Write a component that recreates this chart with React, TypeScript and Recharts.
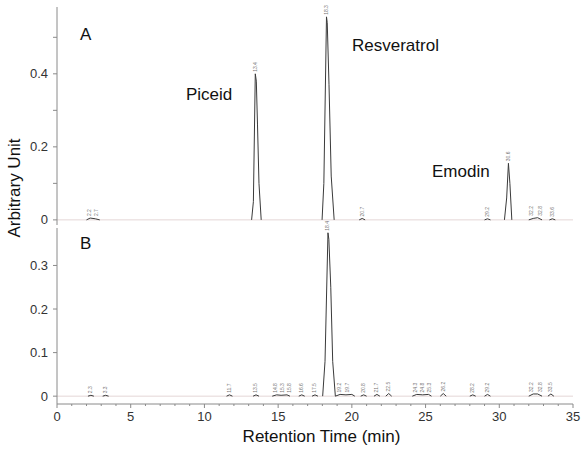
import {
  ComposedChart, Line, XAxis, YAxis, ReferenceLine, ReferenceDot,
} from 'recharts'

// chromatogram traces, [time (min), signal]; null breaks the line between peaks
const traceA: [number, number | null][] = [
  [2.0, 0], [2.25, 0.005], [2.6, 0.003], [2.9, 0], [3.0, null],
  [13.2, 0], [13.32, 0.05], [13.45, 0.4], [13.52, 0.38], [13.6, 0.26], [13.7, 0.1], [13.85, 0], [13.9, null],
  [17.98, 0], [18.1, 0.1], [18.28, 0.556], [18.33, 0.54], [18.45, 0.37], [18.6, 0.12], [18.8, 0], [18.85, null],
  [20.5, 0], [20.7, 0.004], [20.9, 0], [21.0, null],
  [29.0, 0], [29.2, 0.003], [29.4, 0], [29.5, null],
  [30.35, 0], [30.5, 0.06], [30.62, 0.155], [30.72, 0.1], [30.85, 0], [30.9, null],
  [32.0, 0], [32.3, 0.004], [32.6, 0.006], [32.9, 0], [33.0, null],
  [33.4, 0], [33.6, 0.003], [33.8, 0],
]

const traceB: [number, number | null][] = [
  [2.1, 0], [2.3, 0.002], [2.5, 0], [2.6, null],
  [3.1, 0], [3.3, 0.002], [3.5, 0], [3.6, null],
  [11.5, 0], [11.7, 0.003], [11.9, 0], [12.0, null],
  [13.3, 0], [13.5, 0.003], [13.7, 0], [13.8, null],
  [14.6, 0], [14.9, 0.003], [15.2, 0.002], [15.6, 0.003], [15.8, 0], [15.9, null],
  [16.4, 0], [16.6, 0.003], [16.8, 0], [16.9, null],
  [17.3, 0], [17.5, 0.003], [17.7, 0], [17.8, null],
  [18.02, 0], [18.18, 0.08], [18.38, 0.375], [18.44, 0.36], [18.57, 0.25], [18.7, 0.08], [18.88, 0],
  [19.2, 0.004], [19.6, 0.003], [20.0, 0.004], [20.2, 0], [20.3, null],
  [20.6, 0], [20.8, 0.003], [21.0, 0], [21.1, null],
  [21.5, 0], [21.7, 0.004], [21.9, 0], [22.0, null],
  [22.3, 0], [22.5, 0.006], [22.7, 0], [22.8, null],
  [24.1, 0], [24.4, 0.004], [24.8, 0.003], [25.2, 0.004], [25.4, 0], [25.5, null],
  [26.0, 0], [26.2, 0.006], [26.4, 0], [26.5, null],
  [28.0, 0], [28.2, 0.003], [28.4, 0], [28.5, null],
  [29.0, 0], [29.2, 0.004], [29.4, 0], [29.5, null],
  [32.0, 0], [32.3, 0.005], [32.6, 0.005], [32.9, 0], [33.0, null],
  [33.3, 0], [33.5, 0.005], [33.7, 0],
]

// peak labels (retention time printed by the integrator)
const labelsA: [number, number][] = [
  [2.2, 0.005], [2.7, 0.005], [13.45, 0.4], [18.28, 0.556], [20.7, 0.004],
  [29.2, 0.003], [30.62, 0.155], [32.2, 0.006], [32.8, 0.006], [33.6, 0.003],
]
const labelsB: [number, number][] = [
  [2.3, 0.002], [3.3, 0.002], [11.7, 0.003], [13.5, 0.003], [14.8, 0.003], [15.3, 0.003],
  [15.8, 0.003], [16.6, 0.003], [17.5, 0.003], [18.38, 0.375], [19.2, 0.004], [19.7, 0.004],
  [20.8, 0.003], [21.7, 0.004], [22.5, 0.006], [24.3, 0.004], [24.8, 0.004],
  [25.3, 0.004], [26.2, 0.006], [28.2, 0.003], [29.2, 0.004], [32.2, 0.005],
  [32.8, 0.005], [33.5, 0.005],
]

const xTicks = Array.from({ length: 36 }, (_, i) => i)
const yTicksA = [0, 0.1, 0.2, 0.3, 0.4, 0.5]
const yLabelsA = [0, 0.2, 0.4]
const yTicksB = [0, 0.1, 0.2, 0.3]

const FONT = '"Liberation Sans", Arial, sans-serif'
const AXIS = '#8a8a8a'
const TEXT = '#333'

const toRows = (tr: [number, number | null][]) => tr.map(([t, v]) => ({ t, v }))

function XTick({ x, y, payload }: any) {
  const major = payload.value % 5 === 0
  return (
    <g>
      <line x1={x} x2={x} y1={y} y2={y + (major ? 4 : 2)} stroke={AXIS} />
      {major && (
        <text x={x} y={y + 17} textAnchor="middle" fontSize={13} fill={TEXT} fontFamily={FONT}>
          {payload.value}
        </text>
      )}
    </g>
  )
}

function makeYTick(labelled: number[]) {
  return ({ x, y, payload }: any) => {
    const show = labelled.includes(payload.value)
    return (
      <g>
        <line x1={x - 4} x2={x} y1={y} y2={y} stroke={AXIS} />
        {show && (
          <text x={x - 9} y={y + 4.5} textAnchor="end" fontSize={13} fill={TEXT} fontFamily={FONT}>
            {payload.value === 0 ? '0' : payload.value}
          </text>
        )}
      </g>
    )
  }
}

// tiny vertical integrator label above each peak
function PeakTag({ viewBox, value }: any) {
  const cx = viewBox.x + (viewBox.width || 0) / 2
  const cy = viewBox.y
  return (
    <text
      x={cx} y={cy - 2} fontSize={5} fill="#777" fontFamily={FONT}
      transform={`rotate(-90 ${cx} ${cy - 2})`} dominantBaseline="middle"
    >
      {value}
    </text>
  )
}

function PeakLabels(list: [number, number][]) {
  return list.map(([t, v], i) => (
    <ReferenceDot
      key={i} x={t} y={v} r={0} stroke="none" ifOverflow="visible"
      label={<PeakTag value={t.toFixed(1)} />}
    />
  ))
}

const abs = (style: any) => ({ position: 'absolute' as const, fontFamily: FONT, color: '#111', ...style })

export default function App() {
  return (
    <div style={{ position: 'absolute', left: 0, top: 0, width: 586, height: 455, background: '#fff' }}>
      <div style={{ position: 'absolute', left: 0, top: 0 }}>
        <ComposedChart width={586} height={230} data={toRows(traceA)} margin={{ top: 7, right: 13, left: 0, bottom: 5 }}>
          <XAxis dataKey="t" type="number" domain={[0, 35]} hide />
          <YAxis
            type="number" domain={[-0.014, 0.583]} ticks={yTicksA} width={57}
            tick={makeYTick(yLabelsA)} tickLine={false} tickSize={0} tickMargin={0}
            axisLine={{ stroke: AXIS }} allowDataOverflow
          />
          <ReferenceLine y={0} stroke="#e4d6d6" />
          <Line dataKey="v" stroke="#3a3a3a" strokeWidth={1} dot={false} isAnimationActive={false} type="linear" />
          {PeakLabels(labelsA)}
        </ComposedChart>
      </div>
      <div style={{ position: 'absolute', left: 0, top: 220 }}>
        <ComposedChart width={586} height={235} data={toRows(traceB)} margin={{ top: 8, right: 13, left: 0, bottom: 21 }}>
          <XAxis
            dataKey="t" type="number" domain={[0, 35]} ticks={xTicks} height={30}
            tick={<XTick />} tickLine={false} tickSize={0} tickMargin={0} interval={0}
            axisLine={{ stroke: AXIS }}
          />
          <YAxis
            type="number" domain={[-0.018, 0.386]} ticks={yTicksB} width={57}
            tick={makeYTick(yTicksB)} tickLine={false} tickSize={0} tickMargin={0}
            axisLine={{ stroke: AXIS }} allowDataOverflow
          />
          <ReferenceLine y={0} stroke="#e4d6d6" />
          <Line dataKey="v" stroke="#3a3a3a" strokeWidth={1} dot={false} isAnimationActive={false} type="linear" />
          {PeakLabels(labelsB)}
        </ComposedChart>
      </div>

      <div style={abs({ left: 80, top: 25, fontSize: 17 })}>A</div>
      <div style={abs({ left: 80, top: 234, fontSize: 17 })}>B</div>
      <div style={abs({ left: 186, top: 85, fontSize: 17 })}>Piceid</div>
      <div style={abs({ left: 352, top: 36, fontSize: 17 })}>Resveratrol</div>
      <div style={abs({ left: 432, top: 162, fontSize: 17 })}>Emodin</div>
      <div style={abs({ left: 0, top: 427, width: 586, paddingLeft: 57, boxSizing: 'border-box', textAlign: 'center', fontSize: 17 })}>
        Retention Time (min)
      </div>
      <div style={abs({ left: 15, top: 188, fontSize: 17, whiteSpace: 'nowrap', transform: 'translate(-50%, -50%) rotate(-90deg)' })}>
        Arbitrary Unit
      </div>
    </div>
  )
}
